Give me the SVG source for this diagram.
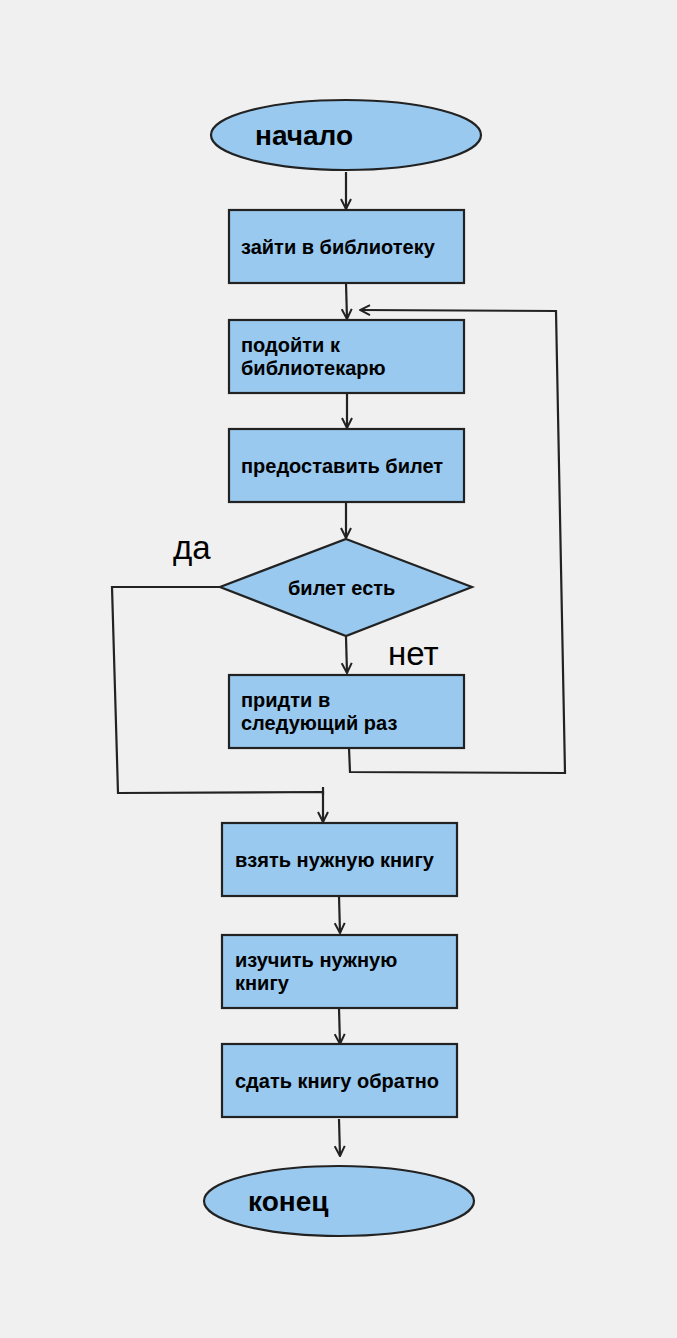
<svg xmlns="http://www.w3.org/2000/svg" width="677" height="1338" viewBox="0 0 677 1338">
<style>
.s{fill:#99c9ef;stroke:#222;stroke-width:2.2}
.t{font-family:"Liberation Sans",Arial,sans-serif;font-weight:bold;font-size:20px;fill:#000}
.b{font-family:"Liberation Sans",Arial,sans-serif;font-weight:bold;font-size:28px;fill:#000}
.l{font-family:"Liberation Sans",Arial,sans-serif;font-size:33px;fill:#000}
.c{fill:none;stroke:#222;stroke-width:2.2}
</style>
<defs>
<marker id="a" viewBox="0 0 12 12" refX="11" refY="6" markerWidth="12" markerHeight="12" markerUnits="userSpaceOnUse" orient="auto">
<path d="M1,1 L11,6 L1,11" fill="none" stroke="#222" stroke-width="2"/>
</marker>
</defs>
<rect width="677" height="1338" fill="#f0f0f0"/>
<g id="connectors">
<path class="c" d="M346,172 L346,209" marker-end="url(#a)"/>
<path class="c" d="M346,283 L347,319" marker-end="url(#a)"/>
<path class="c" d="M347,393 L347,428" marker-end="url(#a)"/>
<path class="c" d="M346,502 L346,538" marker-end="url(#a)"/>
<path class="c" d="M346,637 L347,673" marker-end="url(#a)"/>
<path class="c" d="M349,748 L350,772 L565,773 L556,311 L360,310" marker-end="url(#a)"/>
<path class="c" d="M220,587 L112,587 L118,793 L323,792 L323,822" marker-end="url(#a)"/>
<path class="c" d="M323,787 L323,795"/>
<path class="c" d="M339,896 L340,933" marker-end="url(#a)"/>
<path class="c" d="M339,1008 L340,1044" marker-end="url(#a)"/>
<path class="c" d="M339,1119 L340,1156" marker-end="url(#a)"/>
</g>
<g id="start"><ellipse class="s" cx="346" cy="135" rx="135" ry="35"/><text class="b" x="255" y="145">начало</text></g>
<g id="n1"><rect class="s" x="229" y="210" width="235" height="73"/><text class="t" x="241" y="254">зайти в библиотеку</text></g>
<g id="n2"><rect class="s" x="229" y="320" width="235" height="73"/><text class="t" x="241" y="352">подойти к</text><text class="t" x="241" y="375">библиотекарю</text></g>
<g id="n3"><rect class="s" x="229" y="429" width="235" height="73"/><text class="t" x="241" y="473">предоставить билет</text></g>
<g id="d1"><polygon class="s" points="346,539 472,587 346,636 220,587"/><text class="t" x="288" y="595">билет есть</text></g>
<g id="lbl-yes"><text class="l" x="173" y="559">да</text></g>
<g id="lbl-no"><text class="l" x="388" y="665">нет</text></g>
<g id="n4"><rect class="s" x="229" y="675" width="235" height="73"/><text class="t" x="241" y="707">придти в</text><text class="t" x="241" y="730">следующий раз</text></g>
<g id="n5"><rect class="s" x="222" y="823" width="235" height="73"/><text class="t" x="235" y="867">взять нужную книгу</text></g>
<g id="n6"><rect class="s" x="222" y="935" width="235" height="73"/><text class="t" x="235" y="967">изучить нужную</text><text class="t" x="235" y="990">книгу</text></g>
<g id="n7"><rect class="s" x="222" y="1044" width="235" height="73"/><text class="t" x="235" y="1088">сдать книгу обратно</text></g>
<g id="end"><ellipse class="s" cx="339" cy="1201" rx="135" ry="35"/><text class="b" x="248" y="1211">конец</text></g>
</svg>
